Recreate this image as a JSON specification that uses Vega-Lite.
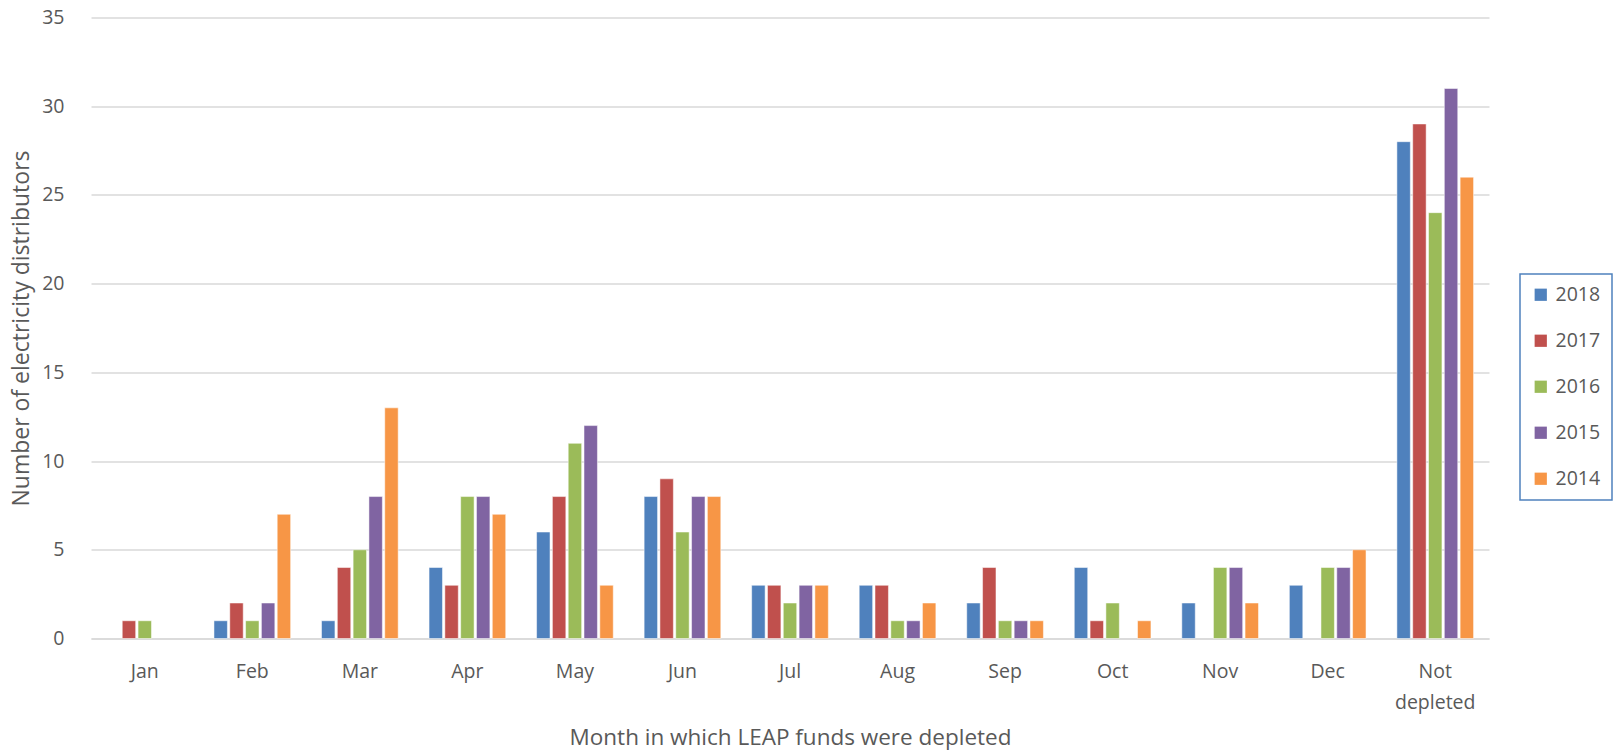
{
  "$schema": "https://vega.github.io/schema/vega-lite/v6.json",
  "width": 1398,
  "height": 621,
  "autosize": {"type": "none"},
  "padding": {"left": 91, "top": 17.5, "right": 125, "bottom": 112},
  "background": "white",
  "config": {"view": {"stroke": null}, "legend": {"strokeColor": "#4F81BD", "strokeWidth": 1.5}},
  "data": {
    "values": [
      {"month": "Jan", "year": "2017", "n": 1}, {"month": "Jan", "year": "2016", "n": 1},
      {"month": "Feb", "year": "2018", "n": 1}, {"month": "Feb", "year": "2017", "n": 2}, {"month": "Feb", "year": "2016", "n": 1}, {"month": "Feb", "year": "2015", "n": 2}, {"month": "Feb", "year": "2014", "n": 7},
      {"month": "Mar", "year": "2018", "n": 1}, {"month": "Mar", "year": "2017", "n": 4}, {"month": "Mar", "year": "2016", "n": 5}, {"month": "Mar", "year": "2015", "n": 8}, {"month": "Mar", "year": "2014", "n": 13},
      {"month": "Apr", "year": "2018", "n": 4}, {"month": "Apr", "year": "2017", "n": 3}, {"month": "Apr", "year": "2016", "n": 8}, {"month": "Apr", "year": "2015", "n": 8}, {"month": "Apr", "year": "2014", "n": 7},
      {"month": "May", "year": "2018", "n": 6}, {"month": "May", "year": "2017", "n": 8}, {"month": "May", "year": "2016", "n": 11}, {"month": "May", "year": "2015", "n": 12}, {"month": "May", "year": "2014", "n": 3},
      {"month": "Jun", "year": "2018", "n": 8}, {"month": "Jun", "year": "2017", "n": 9}, {"month": "Jun", "year": "2016", "n": 6}, {"month": "Jun", "year": "2015", "n": 8}, {"month": "Jun", "year": "2014", "n": 8},
      {"month": "Jul", "year": "2018", "n": 3}, {"month": "Jul", "year": "2017", "n": 3}, {"month": "Jul", "year": "2016", "n": 2}, {"month": "Jul", "year": "2015", "n": 3}, {"month": "Jul", "year": "2014", "n": 3},
      {"month": "Aug", "year": "2018", "n": 3}, {"month": "Aug", "year": "2017", "n": 3}, {"month": "Aug", "year": "2016", "n": 1}, {"month": "Aug", "year": "2015", "n": 1}, {"month": "Aug", "year": "2014", "n": 2},
      {"month": "Sep", "year": "2018", "n": 2}, {"month": "Sep", "year": "2017", "n": 4}, {"month": "Sep", "year": "2016", "n": 1}, {"month": "Sep", "year": "2015", "n": 1}, {"month": "Sep", "year": "2014", "n": 1},
      {"month": "Oct", "year": "2018", "n": 4}, {"month": "Oct", "year": "2017", "n": 1}, {"month": "Oct", "year": "2016", "n": 2}, {"month": "Oct", "year": "2014", "n": 1},
      {"month": "Nov", "year": "2018", "n": 2}, {"month": "Nov", "year": "2016", "n": 4}, {"month": "Nov", "year": "2015", "n": 4}, {"month": "Nov", "year": "2014", "n": 2},
      {"month": "Dec", "year": "2018", "n": 3}, {"month": "Dec", "year": "2016", "n": 4}, {"month": "Dec", "year": "2015", "n": 4}, {"month": "Dec", "year": "2014", "n": 5},
      {"month": "Not depleted", "year": "2018", "n": 28}, {"month": "Not depleted", "year": "2017", "n": 29}, {"month": "Not depleted", "year": "2016", "n": 24}, {"month": "Not depleted", "year": "2015", "n": 31}, {"month": "Not depleted", "year": "2014", "n": 26}
    ]
  },
  "mark": {"type": "bar", "stroke": "white", "strokeWidth": 1, "strokeOpacity": 0.5},
  "encoding": {
    "x": {
      "field": "month", "type": "nominal",
      "scale": {"domain": ["Jan", "Feb", "Mar", "Apr", "May", "Jun", "Jul", "Aug", "Sep", "Oct", "Nov", "Dec", "Not depleted"], "paddingInner": 0.265, "paddingOuter": 0.1325},
      "axis": {
        "title": "Month in which LEAP funds were depleted",
        "labelAngle": 0,
        "labelFont": "Open Sans", "labelFontSize": 19.5, "labelColor": "#595959",
        "labelPadding": 24, "labelLineHeight": 31,
        "labelExpr": "datum.label == 'Not depleted' ? ['Not', 'depleted'] : datum.label",
        "ticks": false,
        "domainColor": "#d9d9d9", "domainWidth": 1.5,
        "titleFont": "Open Sans", "titleFontSize": 22.5, "titleFontWeight": "normal", "titleColor": "#595959",
        "titlePadding": 14
      }
    },
    "xOffset": {
      "field": "year", "type": "nominal",
      "scale": {"domain": ["2018", "2017", "2016", "2015", "2014"], "paddingInner": 0.15, "paddingOuter": 0.075}
    },
    "y": {
      "field": "n", "type": "quantitative",
      "scale": {"domain": [0, 35]},
      "axis": {
        "title": "Number of electricity distributors",
        "values": [0, 5, 10, 15, 20, 25, 30, 35],
        "labelFont": "Open Sans", "labelFontSize": 19.5, "labelColor": "#595959",
        "labelPadding": 27,
        "ticks": false, "domain": false,
        "gridColor": "#d9d9d9", "gridWidth": 1.5,
        "titleFont": "Open Sans", "titleFontSize": 23, "titleFontWeight": "normal", "titleColor": "#595959",
        "titlePadding": 8
      }
    },
    "color": {
      "field": "year", "type": "nominal",
      "scale": {"domain": ["2018", "2017", "2016", "2015", "2014"], "range": ["#4F81BD", "#C0504D", "#9BBB59", "#8064A2", "#F79646"]},
      "legend": {
        "title": null,
        "orient": "none", "legendX": 1429, "legendY": 256.5,
        "symbolType": "square", "symbolSize": 150, "symbolStrokeWidth": 0,
        "labelFont": "Open Sans", "labelFontSize": 19.5, "labelColor": "#595959", "labelOffset": 5,
        "rowPadding": 25, "padding": 11
      }
    }
  }
}
